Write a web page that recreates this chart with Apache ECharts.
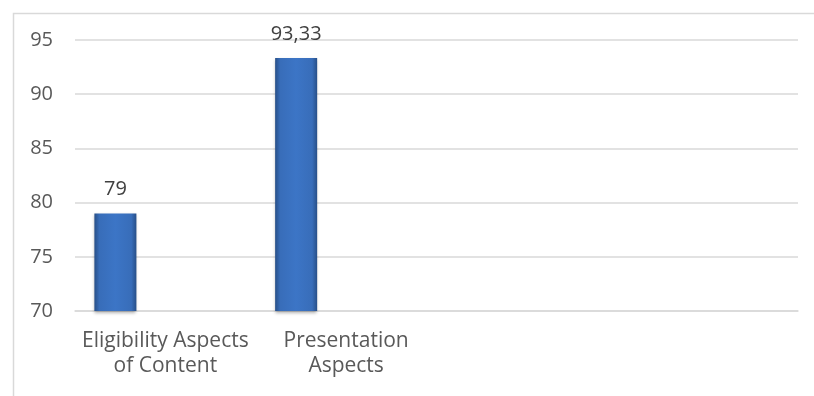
<!DOCTYPE html>
<html>
<head>
<meta charset="utf-8">
<script src="https://cdn.jsdelivr.net/npm/echarts@6/dist/echarts.min.js"></script>
<style>
  html, body { margin: 0; padding: 0; background: #fff; }
  #chart { width: 814px; height: 396px; }
</style>
</head>
<body>
<div id="chart"></div>
<script>
// categories (last two are empty in the source sheet)
const categories = ['Eligibility Aspects\nof Content', 'Presentation\nAspects', '', '']
const series1 = [79, 93.33, null, null]
const series2 = [null, null, null, null]
const series3 = [null, null, null, null]
const yTicks = [70, 75, 80, 85, 90, 95]

const font = 'Open Sans'

const barColor = {
  type: 'linear', x: 0, y: 0, x2: 1, y2: 0,
  colorStops: [
    { offset: 0, color: '#274f88' },
    { offset: 0.12, color: '#386db9' },
    { offset: 0.5, color: '#3c75c6' },
    { offset: 0.88, color: '#386db9' },
    { offset: 1, color: '#274f88' }
  ]
}

function makeSeries(name, data) {
  return {
    name: name,
    type: 'bar',
    data: data,
    barWidth: 42,
    barGap: '19%',
    itemStyle: {
      color: barColor,
      shadowBlur: 3,
      shadowColor: 'rgba(0,0,0,0.3)',
      shadowOffsetY: 2
    },
    label: {
      show: true,
      position: 'top',
      distance: 14,
      fontFamily: font,
      fontSize: 20,
      color: '#404040',
      formatter: (p) => String(p.value).replace('.', ',')
    }
  }
}

const chart = echarts.init(document.getElementById('chart'))
chart.setOption({
  animation: false,
  graphic: [
    {
      type: 'rect',
      left: 11,
      top: 11,
      shape: { width: 900, height: 500 },
      style: { fill: 'none', stroke: '#d9d9d9', lineWidth: 1.5 }
    }
  ],
  grid: {
    left: 75,
    right: 16,
    top: 40,
    bottom: 85,
    containLabel: false,
    outerBoundsMode: 'none'
  },
  xAxis: {
    type: 'category',
    data: categories,
    axisLine: { show: true, lineStyle: { color: '#d9d9d9', width: 1.5 } },
    axisTick: { show: false },
    axisLabel: {
      interval: 0,
      margin: 18,
      fontFamily: font,
      fontSize: 21,
      lineHeight: 25,
      color: '#595959'
    }
  },
  yAxis: {
    type: 'value',
    min: yTicks[0],
    max: yTicks[yTicks.length - 1],
    interval: yTicks[1] - yTicks[0],
    axisLine: { show: false },
    axisTick: { show: false },
    splitLine: { lineStyle: { color: '#d9d9d9', width: 1.5 } },
    axisLabel: {
      margin: 22,
      fontFamily: font,
      fontSize: 20,
      color: '#595959'
    }
  },
  series: [
    makeSeries('Series 1', series1),
    makeSeries('Series 2', series2),
    makeSeries('Series 3', series3)
  ]
})
</script>
</body>
</html>
